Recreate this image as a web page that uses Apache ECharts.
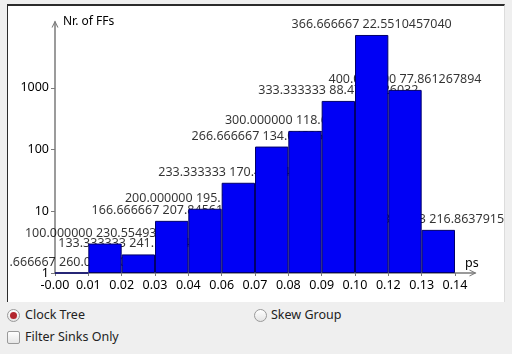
<!DOCTYPE html>
<html lang="en">
<head>
<meta charset="UTF-8">
<title>Clock tree skew histogram</title>
<script src="https://cdn.jsdelivr.net/npm/echarts@6/dist/echarts.min.js"></script>
<style>
    body { margin: 0; width: 512px; height: 354px; overflow: hidden; background: #efefef;
           font-family: "Noto Sans", sans-serif; font-size: 12.5px; color: #222; }
    #panel { position: absolute; left: 7px; top: 4px; width: 498px; height: 298px; box-sizing: border-box;
             background: #fff; border-top: 2px solid #2b2b2b; border-left: 1px solid #2b2b2b;
             border-right: 1px solid #dcdcdc; }
    #container { position: absolute; left: 9px; top: 6px; width: 495px; height: 295px; }
    .ctl { position: absolute; line-height: 16px; }
    .radio { position: absolute; width: 11px; height: 11px; border-radius: 50%; border: 1px solid #9a9a9a;
             background: linear-gradient(#fff, #e4e4e4); }
    .radio.on::after { content: ""; position: absolute; left: 2px; top: 2px; width: 7px; height: 7px;
             border-radius: 50%; background: #b3262e; }
    .check { position: absolute; width: 11px; height: 11px; border: 1px solid #9a9a9a; border-radius: 2px;
             background: linear-gradient(#fff, #e6e6e6); }
</style>
</head>
<body>
<div id="panel"></div>
<div id="container"></div>

<div class="radio on" style="left:7px;top:309px"></div>
<div class="ctl" style="left:25px;top:307px">Clock Tree</div>
<div class="radio" style="left:254px;top:309px"></div>
<div class="ctl" style="left:271px;top:307px">Skew Group</div>
<div class="check" style="left:7px;top:331px"></div>
<div class="ctl" style="left:25px;top:329px">Filter Sinks Only</div>

<script type="text/javascript">
    // bin edges (tick labels on x), counts per bin, text drawn above each bin
    var edgeLabels = ['-0.00', '0.01', '0.02', '0.03', '0.04', '0.06', '0.07',
                      '0.08', '0.09', '0.10', '0.12', '0.13', '0.14'];
    var counts = [1, 3, 2, 7, 11, 29, 112, 201, 615, 7210, 928, 5];
    var binNotes = [
        '66.666667 260.000000000',
        '100.000000 230.554939913',
        '133.333333 241.102348402',
        '166.666667 207.845610957',
        '200.000000 195.137301845',
        '233.333333 170.466344428',
        '266.666667 134.045351010',
        '300.000000 118.633631855',
        '333.333333 88.4700826032',
        '366.666667 22.5510457040',
        '400.000000 77.861267894',
        '433.333333 216.863791532'
    ];
    var yTicks = [1, 10, 100, 1000];

    var barData = [];
    for (var i = 0; i < counts.length; i++) {
        barData.push([i + 0.5, counts[i]]);
    }
    var edgeTicks = [];
    for (var j = 0; j < edgeLabels.length; j++) {
        edgeTicks.push(j);
    }

    var font = 'Noto Sans';
    var chevron = 'path://M0,10 L5,0 L10,10 L8.4,10 L5,3.2 L1.6,10 Z';

    var myChart = echarts.init(document.getElementById('container'), null, {renderer: 'canvas'});
    var option = {
        animation: false,
        grid: {left: 46, right: 29, top: 16, bottom: 28},
        xAxis: {
            type: 'value',
            min: 0,
            max: 12.6,
            name: 'ps',
            nameLocation: 'end',
            nameGap: -10,
            nameTextStyle: {color: '#000', fontFamily: font, fontSize: 12.5, align: 'left',
                            verticalAlign: 'bottom', padding: [0, 0, 3, 0]},
            axisLine: {lineStyle: {color: '#7a7a7a', width: 1.5},
                       symbol: ['none', chevron], symbolSize: [9, 7], symbolOffset: [0, -2]},
            axisTick: {show: true, length: 3, lineStyle: {color: '#7a7a7a'}, customValues: edgeTicks},
            axisLabel: {color: '#000', fontFamily: font, fontSize: 12.5, margin: 6, customValues: edgeTicks,
                        formatter: function (v) { return edgeLabels[Math.round(v)] || ''; }},
            splitLine: {show: false}
        },
        yAxis: {
            type: 'log',
            logBase: 10,
            min: 1,
            max: 11700,
            name: 'Nr. of FFs',
            nameLocation: 'end',
            nameGap: 0,
            nameTextStyle: {color: '#000', fontFamily: font, fontSize: 12, align: 'left',
                            verticalAlign: 'middle', padding: [0, 0, 0, 8]},
            axisLine: {show: true, lineStyle: {color: '#7a7a7a', width: 1.5},
                       symbol: ['none', chevron], symbolSize: [9, 7], symbolOffset: [0, -2]},
            axisTick: {show: true, length: 4, lineStyle: {color: '#7a7a7a'}, customValues: yTicks},
            axisLabel: {color: '#000', fontFamily: font, fontSize: 12.5, margin: 6, customValues: yTicks,
                        formatter: function (v) { return String(Math.round(v)); }},
            splitLine: {show: false}
        },
        series: [
            {
                // notes sit under the bars, so neighbours hide part of them
                type: 'scatter',
                z: 1,
                symbolSize: 0,
                data: barData,
                label: {show: true, position: 'top', distance: 4, color: '#000',
                        fontFamily: font, fontSize: 12.5,
                        formatter: function (p) { return binNotes[p.dataIndex]; }}
            },
            {
                type: 'bar',
                z: 3,
                data: barData,
                barWidth: '100%',
                barCategoryGap: '0%',
                itemStyle: {color: '#0000f5', borderColor: '#00006a', borderWidth: 1}
            }
        ]
    };
    myChart.setOption(option);
</script>
</body>
</html>
